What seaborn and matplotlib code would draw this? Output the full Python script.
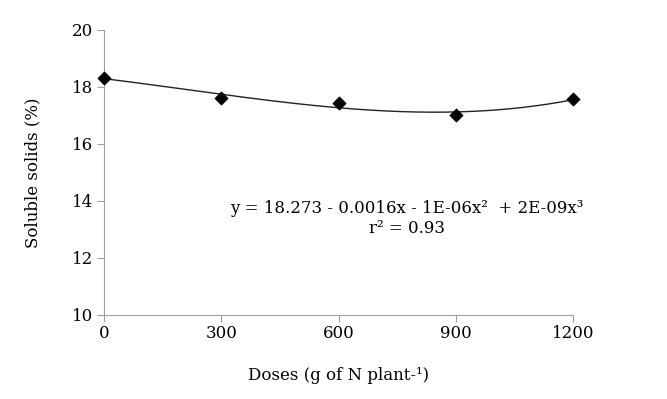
import numpy as np
import pandas as pd
import matplotlib
matplotlib.use("Agg")
import matplotlib.pyplot as plt
import seaborn as sns

doses = [0, 300, 600, 900, 1200]
solids = [18.32, 17.62, 17.45, 17.0, 17.58]
x_ticks = [0, 300, 600, 900, 1200]
y_ticks = [10, 12, 14, 16, 18, 20]

sns.set_style("white")
plt.rcParams['font.family'] = ['DejaVu Serif']

df = pd.DataFrame({"dose": doses, "solids": solids})
coef = np.polyfit(doses, solids, 3)
xs = np.linspace(0, 1200, 200)
fit = pd.DataFrame({"dose": xs, "solids": np.polyval(coef, xs)})

fig = plt.figure(figsize=(6.67, 3.99), dpi=100)
ax = fig.add_axes([0.156, 0.211, 0.703, 0.714])
sns.lineplot(data=fit, x="dose", y="solids", ax=ax, color="#222222", linewidth=1.0)
sns.scatterplot(data=df, x="dose", y="solids", ax=ax, marker="D", color="black", s=45, edgecolor="black", zorder=5)

ax.set_xlim(0, 1200)
ax.set_ylim(10, 20)
ax.set_xticks(x_ticks)
ax.set_yticks(y_ticks)
ax.tick_params(axis='both', labelsize=12, length=5, color="#a0a0a0", direction="out", width=0.8,
               labelcolor="black", bottom=True, left=True)
ax.tick_params(axis='x', pad=2)
ax.tick_params(axis='y', pad=3)
for s in ["top", "right"]:
    ax.spines[s].set_visible(False)
for s in ["left", "bottom"]:
    ax.spines[s].set_color("#a0a0a0")
    ax.spines[s].set_linewidth(0.8)
for c in ax.collections + ax.lines:
    c.set_clip_on(False)

ax.set_xlabel("Doses (g of N plant-¹)", fontsize=12, labelpad=18, color="black")
ax.set_ylabel("Soluble solids (%)", fontsize=12, labelpad=22, color="black")

ax.text(775, 13.72, "y = 18.273 - 0.0016x - 1E-06x²  + 2E-09x³", ha="center", va="center", fontsize=12, color="black")
ax.text(775, 13.02, "r² = 0.93", ha="center", va="center", fontsize=12, color="black")

fig.savefig("out.png", dpi=100)
